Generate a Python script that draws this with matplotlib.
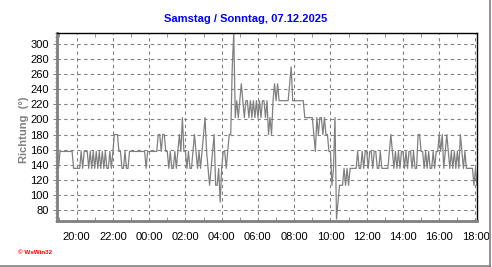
import matplotlib
matplotlib.use('Agg')
import matplotlib.pyplot as plt
import matplotlib.dates as mdates
from matplotlib.lines import Line2D
from matplotlib.ticker import MultipleLocator
import pandas as pd

plt.rcParams['font.family'] = ['Liberation Sans', 'DejaVu Sans']

titel = 'Samstag / Sonntag, 07.12.2025'
y_label = 'Richtung  (°)'
start = '2025-12-06 18:55'   # erster Messwert, danach alle 5 Minuten

# Windrichtung in Grad, 5-Minuten-Werte
richtung = [
    # 18:55 - 19:55
    135, 135, 157.5, 157.5, 157.5, 157.5, 157.5, 157.5, 157.5, 157.5, 157.5, 135, 135,
    # 20:00
    135, 135, 135, 157.5, 135, 157.5, 157.5, 157.5, 135, 157.5, 135, 157.5,
    # 21:00
    135, 157.5, 135, 157.5, 135, 157.5, 135, 157.5, 135, 135, 157.5, 135,
    # 22:00
    157.5, 180, 180, 180, 157.5, 157.5, 135, 135, 157.5, 135, 135, 157.5,
    # 23:00
    157.5, 157.5, 157.5, 157.5, 157.5, 157.5, 157.5, 157.5, 157.5, 157.5, 135, 157.5,
    # 00:00
    157.5, 157.5, 157.5, 157.5, 157.5, 157.5, 180, 180, 157.5, 180, 180, 157.5,
    # 01:00
    157.5, 135, 157.5, 135, 135, 157.5, 135, 157.5, 180, 157.5, 202.5, 157.5,
    # 02:00
    157.5, 135, 157.5, 135, 135, 157.5, 180, 157.5, 135, 157.5, 135, 157.5,
    # 03:00
    180, 202.5, 157.5, 135, 112.5, 135, 157.5, 180, 112.5, 112.5, 135, 90,
    # 04:00
    135, 157.5, 157.5, 135, 157.5, 180, 180, 270, 315, 202.5, 225, 202.5,
    # 05:00
    225, 247.5, 225, 202.5, 225, 225, 202.5, 225, 202.5, 225, 202.5, 225,
    # 06:00
    202.5, 225, 202.5, 225, 225, 202.5, 225, 180, 202.5, 180, 225, 247.5,
    # 07:00
    225, 247.5, 225, 225, 225, 225, 225, 225, 225, 247.5, 270, 225,
    # 08:00
    225, 225, 225, 225, 225, 225, 225, 202.5, 202.5, 202.5, 202.5, 202.5,
    # 09:00
    202.5, 180, 157.5, 202.5, 180, 202.5, 202.5, 180, 202.5, 180, 180, 157.5,
    # 10:00
    157.5, 112.5, 135, 202.5, 67.5, 90, 112.5, 112.5, 112.5, 135, 112.5, 135,
    # 11:00
    112.5, 135, 135, 135, 135, 135, 157.5, 135, 135, 157.5, 135, 157.5,
    # 12:00
    157.5, 135, 157.5, 157.5, 135, 157.5, 157.5, 135, 135, 157.5, 135, 135,
    # 13:00
    135, 135, 135, 157.5, 180, 157.5, 135, 157.5, 135, 157.5, 135, 157.5,
    # 14:00
    157.5, 135, 157.5, 135, 157.5, 157.5, 135, 157.5, 135, 135, 180, 180,
    # 15:00
    157.5, 157.5, 135, 157.5, 135, 157.5, 135, 135, 157.5, 135, 157.5, 157.5,
    # 16:00
    180, 157.5, 180, 135, 157.5, 180, 157.5, 135, 157.5, 135, 157.5, 135,
    # 17:00
    157.5, 135, 180, 157.5, 135, 157.5, 135, 135, 135, 135, 135, 112.5,
    # 18:00
    135, 112.5,
]

zeit = pd.date_range(start, periods=len(richtung), freq='5min')

grau = '#808080'
fig = plt.figure(figsize=(4.92, 2.67), dpi=100)
ax = fig.add_axes([57/492, 1 - 221/267, 420/492, 188/267])

ax.plot(zeit, richtung, color=grau, linewidth=0.9)

ax.set_ylim(65, 315)
ax.set_xlim(pd.Timestamp('2025-12-06 18:55'), pd.Timestamp('2025-12-07 18:05'))
ax.yaxis.set_major_locator(MultipleLocator(20))
ax.yaxis.set_minor_locator(MultipleLocator(5))
ax.xaxis.set_major_locator(mdates.HourLocator(byhour=range(0, 24, 2)))
ax.xaxis.set_minor_locator(mdates.HourLocator())
ax.xaxis.set_major_formatter(mdates.DateFormatter('%H:%M'))

ax.grid(True, which='major', color=grau, linestyle=(0, (3, 3)), linewidth=0.8)

ax.tick_params(axis='x', which='both', direction='in', top=True, bottom=True,
               color=grau, labelsize=8, pad=8)
ax.tick_params(axis='x', which='major', length=0)
ax.tick_params(axis='x', which='minor', length=3)
ax.tick_params(axis='y', which='major', direction='out', length=3, color=grau,
               labelsize=8, pad=3)
ax.tick_params(axis='y', which='minor', direction='out', length=1.5, width=0.8,
               color=grau)

for s in ['left', 'bottom']:
    ax.spines[s].set_color(grau)
    ax.spines[s].set_linewidth(2)
for s in ['top', 'right']:
    ax.spines[s].set_color('black')
    ax.spines[s].set_linewidth(1)

fig.text(0.5, 1 - 19/267, titel, color='#0000ff', fontsize=8,
         fontweight='bold', ha='center', va='center')
fig.text(24/492, 1 - 130/267, y_label, color=grau, fontsize=8, fontweight='bold',
         rotation=90, ha='center', va='center')
fig.text(18/492, 1 - 253/267, '© WsWin32', color='#ff0000', fontsize=4.5,
         fontweight='bold', ha='left', va='center')

# grauer Rahmen rechts und unten
fig.add_artist(Line2D([489.5/492, 489.5/492], [0, 1], color=grau, linewidth=1.2))
fig.add_artist(Line2D([0, 489.5/492], [1/267, 1/267], color=grau, linewidth=1.2))

fig.savefig('out.png', dpi=100)
